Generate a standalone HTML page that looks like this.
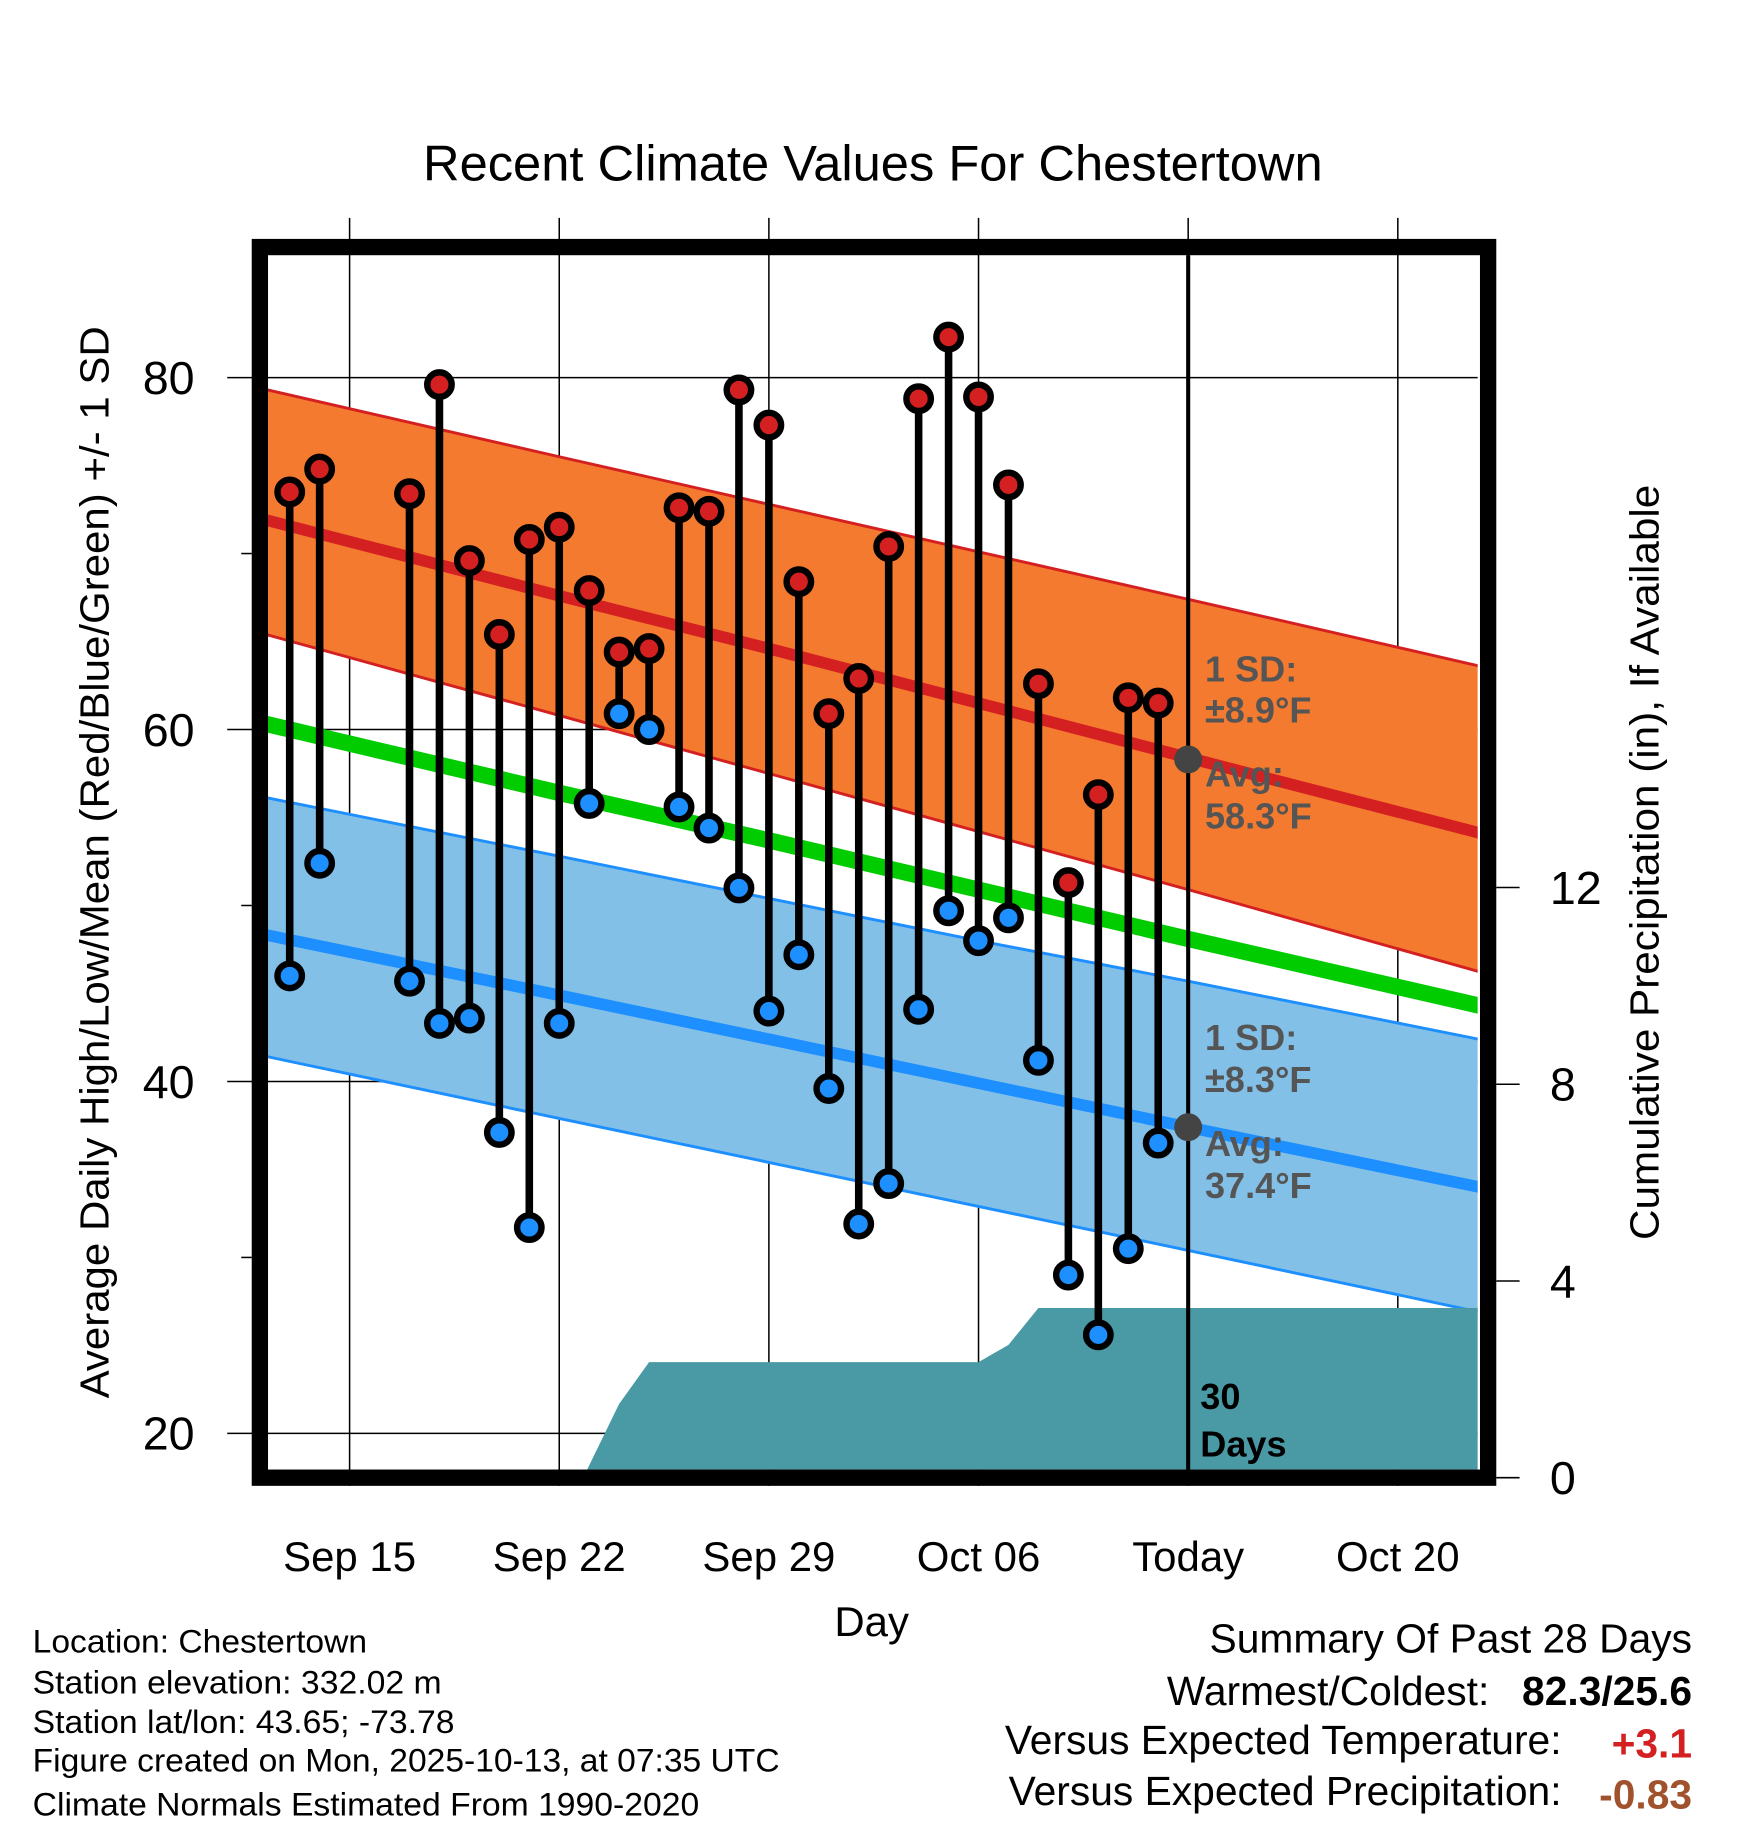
<!DOCTYPE html>
<html><head><meta charset="utf-8"><style>
html,body{margin:0;padding:0;background:#fff}
svg{display:block;font-family:"Liberation Sans",sans-serif}
</style></head><body>
<svg id="chart" width="1748" height="1828" viewBox="0 0 1500 1568.6" preserveAspectRatio="none" xmlns="http://www.w3.org/2000/svg">
<defs><clipPath id="plotclip"><rect x="230" y="219" width="1038" height="1042"/></clipPath></defs>
<text x="749" y="155" font-size="43" text-anchor="middle" textLength="772" lengthAdjust="spacingAndGlyphs">Recent Climate Values For Chestertown</text>
<g id="grid"></g>
<g id="bands" clip-path="url(#plotclip)"></g>
<g id="marks"></g>
<rect x="223" y="212" width="1054" height="1056" fill="none" stroke="#000" stroke-width="14"/>
<g id="axes"></g>
<text x="748" y="1404" font-size="36" text-anchor="middle">Day</text>
<text transform="translate(93,740) rotate(-90)" font-size="35" text-anchor="middle" textLength="920" lengthAdjust="spacingAndGlyphs">Average Daily High/Low/Mean (Red/Blue/Green) +/- 1 SD</text>
<text transform="translate(1423,740) rotate(-90)" font-size="35" text-anchor="middle" textLength="648" lengthAdjust="spacingAndGlyphs">Cumulative Precipitation (in), If Available</text>
<g font-size="28">
<text x="28" y="1418" textLength="287" lengthAdjust="spacingAndGlyphs">Location: Chestertown</text>
<text x="28" y="1453" textLength="351" lengthAdjust="spacingAndGlyphs">Station elevation: 332.02 m</text>
<text x="28" y="1487" textLength="362" lengthAdjust="spacingAndGlyphs">Station lat/lon: 43.65; -73.78</text>
<text x="28" y="1520" textLength="641" lengthAdjust="spacingAndGlyphs">Figure created on Mon, 2025-10-13, at 07:35 UTC</text>
<text x="28" y="1558" textLength="572" lengthAdjust="spacingAndGlyphs">Climate Normals Estimated From 1990-2020</text>
</g>
<g font-size="35">
<text x="1452" y="1418" text-anchor="end">Summary Of Past 28 Days</text>
<text x="1278" y="1463" text-anchor="end">Warmest/Coldest:</text>
<text x="1452" y="1463" text-anchor="end" font-weight="bold">82.3/25.6</text>
<text x="1340" y="1505" text-anchor="end">Versus Expected Temperature:</text>
<text x="1452" y="1508" text-anchor="end" font-weight="bold" fill="#d42020">+3.1</text>
<text x="1340" y="1549" text-anchor="end">Versus Expected Precipitation:</text>
<text x="1452" y="1552" text-anchor="end" font-weight="bold" fill="#a0522d">-0.83</text>
</g>
</svg>
<script>
// days since Sep 15
const obsDays=[-2,-1,2,3,4,5,6,7,8,9,10,11,12,13,14,15,16,17,18,19,20,21,22,23,24,25,26,27];
const highs=[73.5,74.8,73.4,79.6,69.6,65.4,70.8,71.5,67.9,64.4,64.6,72.6,72.4,79.3,77.3,68.4,60.9,62.9,70.4,78.8,82.3,78.9,73.9,62.6,51.3,56.3,61.8,61.5];
const lows=[46.0,52.4,45.7,43.3,43.6,37.1,31.7,43.3,55.8,60.9,60.0,55.6,54.4,51.0,44.0,47.2,39.6,31.9,34.2,44.1,49.7,48.0,49.3,41.2,29.0,25.6,30.5,36.5];
const normDays=[-3,7,14,21,28,38];
const highMean=[72.0,67.6,64.6,61.5,58.4,54.0];
const highUpper=[79.4,75.5,72.8,70.1,67.4,63.5];
const highLower=[65.5,60.8,57.5,54.2,50.9,46.1];
const dailyMean=[60.4,56.4,53.7,50.9,48.1,44.2];
const lowMean=[48.4,44.9,42.4,39.9,37.4,33.9];
const lowUpper=[56.2,52.8,50.4,48.0,45.7,42.3];
const lowLower=[41.5,37.9,35.4,32.9,30.4,26.8];
const precipDays=[-3,7.8,9,10,21,22,23,38];
const precipVals=[0,0,1.5,2.35,2.35,2.7,3.45,3.45];
const xTickDays=[0,7,14,21,28,35];
const xTickLabels=["Sep 15","Sep 22","Sep 29","Oct 06","Today","Oct 20"];
const yTicks=[20,40,60,80];
const yMinor=[30,50,70];
const pTicks=[0,4,8,12];
const todayDay=28, todayHigh=58.3, todayLow=37.4;

const X=d=>300+25.7*d, Y=v=>324+(80-v)*15.1, P=v=>1268-42.2*v;
const NS='http://www.w3.org/2000/svg';
function mk(tag,attrs,parent,txt){const e=document.createElementNS(NS,tag);for(const k in attrs)e.setAttribute(k,attrs[k]);if(txt!==undefined)e.textContent=txt;parent.appendChild(e);return e;}
const grid=document.getElementById('grid'),bands=document.getElementById('bands'),marks=document.getElementById('marks'),axes=document.getElementById('axes');
xTickDays.forEach((d,i)=>{
 const l=mk('line',{x1:X(d),x2:X(d),y1:187,y2:1275,stroke:'#000','stroke-width':1.3},grid);
 
 
 const t=mk('text',{x:X(d),y:1348,'font-size':36,'text-anchor':'middle'},axes,xTickLabels[i]);
 
 
});
yTicks.forEach(v=>{
 const l=mk('line',{x1:195,x2:1268,y1:Y(v),y2:Y(v),stroke:'#000','stroke-width':1.3},grid);
 
 
 const t=mk('text',{x:167,y:Y(v)+14,'font-size':40,'text-anchor':'end'},axes,String(v));
 
 
});
yMinor.forEach(v=>{
 const l=mk('line',{x1:207,x2:216,y1:Y(v),y2:Y(v),stroke:'#000','stroke-width':1.3},axes);
 
 
});
pTicks.forEach(v=>{
 const l=mk('line',{x1:1284,x2:1304,y1:P(v),y2:P(v),stroke:'#000','stroke-width':1.3},axes);
 
 
 const t=mk('text',{x:1330,y:P(v)+14,'font-size':40},axes,String(v));
 
 
});
function linePts(arr){return normDays.map((d,i)=>X(d)+','+Y(arr[i]));}
function band(up,lo,fill,stroke,name){
 const pts=linePts(up).concat(linePts(lo).reverse()).join(' ');
 const p=mk('polygon',{points:pts,fill:fill,stroke:stroke,'stroke-width':2.5},bands);
 
 
}
band(highUpper,highLower,'#f47a30','#d42020','high-sd-band');
band(lowUpper,lowLower,'#82c0e8','#1e8fff','low-sd-band');
function pline(arr,color,w,name){
 const p=mk('polyline',{points:linePts(arr).join(' '),fill:'none',stroke:color,'stroke-width':w},bands);
 
 
}
pline(highMean,'#d42020',10,'high-mean-line');
pline(dailyMean,'#00cc00',14,'daily-mean-line');
pline(lowMean,'#1e8fff',10,'low-mean-line');
const pp=precipDays.map((d,i)=>X(d)+','+P(precipVals[i]));
pp.push(X(38)+','+P(0),X(-3)+','+P(0));
const pa=mk('polygon',{points:pp.join(' '),fill:'#4a9aa5'},bands);


const tl=mk('line',{x1:X(todayDay),x2:X(todayDay),y1:219,y2:1261,stroke:'#000','stroke-width':3.5},marks);


obsDays.forEach((d,i)=>{
 const s=mk('line',{x1:X(d),x2:X(d),y1:Y(highs[i]),y2:Y(lows[i]),stroke:'#000','stroke-width':6.5},marks);
 
 
});
obsDays.forEach((d,i)=>{
 const h=mk('circle',{cx:X(d),cy:Y(highs[i]),r:10.5,fill:'#d42020',stroke:'#000','stroke-width':5.5},marks);
 
 
 const l=mk('circle',{cx:X(d),cy:Y(lows[i]),r:10.5,fill:'#1e8fff',stroke:'#000','stroke-width':5.5},marks);
 
 
});
[[todayHigh,'today-high-normal'],[todayLow,'today-low-normal']].forEach(([v,n])=>{
 const c=mk('circle',{cx:X(todayDay),cy:Y(v),r:12,fill:'#444'},marks);
 
 
});
function lbl(x,y,txt,color,name){
 const t=mk('text',{x:x,y:y,'font-size':31,'font-weight':'bold',fill:color},marks,txt);
 
 
}
lbl(1034,585,'1 SD:','#555','high-sd-label');
lbl(1034,620,'\u00b18.9\u00b0F','#555','high-sd-value');
lbl(1034,675,'Avg:','#555','high-avg-label');
lbl(1034,711,'58.3\u00b0F','#555','high-avg-value');
lbl(1034,901,'1 SD:','#555','low-sd-label');
lbl(1034,937,'\u00b18.3\u00b0F','#555','low-sd-value');
lbl(1034,992,'Avg:','#555','low-avg-label');
lbl(1034,1028,'37.4\u00b0F','#555','low-avg-value');
lbl(1030,1209,'30','#000','precip-days-label');
lbl(1030,1250,'Days','#000','precip-days-unit');
</script>
</body></html>
